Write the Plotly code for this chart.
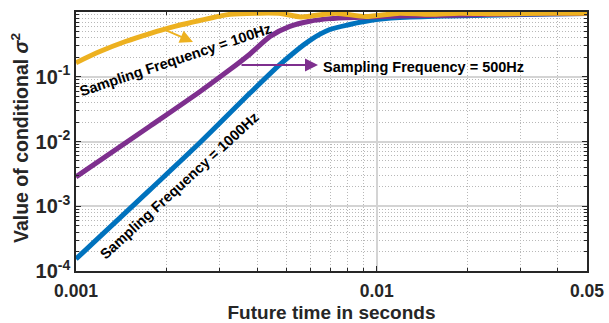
import plotly.graph_objects as go

# ---------------- data ----------------
t_1000 = [0.001, 0.00176, 0.00258, 0.00379, 0.00476, 0.00598, 0.00698, 0.00813,
          0.00948, 0.0119, 0.0175, 0.0256, 0.0376, 0.05]
v_1000 = [1.53e-4, 1.79e-3, 9.55e-3, 0.056, 0.154, 0.362, 0.536, 0.641,
          0.738, 0.82, 0.87, 0.90, 0.93, 0.95]

t_500 = [0.001, 0.00176, 0.00258, 0.00325, 0.00379, 0.00442, 0.00514, 0.00598,
         0.00698, 0.00897, 0.0119, 0.0175, 0.0256, 0.0376, 0.05]
v_500 = [2.84e-3, 0.0172, 0.0588, 0.129, 0.225, 0.42, 0.60, 0.72,
         0.79, 0.83, 0.87, 0.89, 0.92, 0.94, 0.95]

t_100 = [0.001, 0.00120, 0.00146, 0.00176, 0.00213, 0.00258, 0.00325, 0.00408,
         0.00480, 0.00560, 0.00730, 0.00920, 0.0119, 0.0150, 0.0188, 0.0256,
         0.0376, 0.05]
v_100 = [0.165, 0.245, 0.35, 0.465, 0.60, 0.74, 0.92, 0.96,
         0.95, 0.84, 0.96, 0.85, 0.96, 0.92, 0.96, 0.94,
         0.96, 0.96]

x_ticks = [0.001, 0.01, 0.05]
x_tick_text = ["0.001", "0.01", "0.05"]
y_ticks = [1e-4, 1e-3, 1e-2, 1e-1, 1]
y_tick_text = ["10<sup>-4</sup>", "10<sup>-3</sup>", "10<sup>-2</sup>",
               "10<sup>-1</sup>", "10<sup>0</sup>"]

labels = ["Sampling Frequency = 100Hz", "Sampling Frequency = 500Hz",
          "Sampling Frequency = 1000Hz"]
x_title = "Future time in seconds"
y_title = "Value of conditional <i>σ</i><sup>2</sup>"

# ---------------- style ----------------
BLUE, PURPLE, YELLOW = "#0072BD", "#7E2F8E", "#EDB120"
FONT = "Liberation Sans, Arial, Helvetica, sans-serif"
INK = "#262626"

x_minor = [k * 1e-3 for k in range(2, 10)] + [k * 1e-2 for k in range(2, 5)]
y_minor = [k * 10.0 ** e for e in range(-4, 0) for k in range(2, 10)]

fig = go.Figure()
for t, v, c in [(t_1000, v_1000, BLUE), (t_500, v_500, PURPLE), (t_100, v_100, YELLOW)]:
    fig.add_trace(go.Scatter(x=t, y=v, mode="lines",
                             line=dict(color=c, width=5, shape="spline", smoothing=0.7),
                             showlegend=False, hoverinfo="skip"))

L, R, T, B = 76, 587, 12, 271
W, H = 609, 323


def P(px, py):
    return (px - L) / (R - L), (B - py) / (B - T)


annotations = []
# arrows
for head, tail, col in [((193, 42), (163, 29), YELLOW), ((318, 65), (240, 65), PURPLE)]:
    hx, hy = P(*head)
    annotations.append(dict(x=hx, y=hy, xref="paper", yref="paper", text="",
                            showarrow=True, ax=tail[0] - head[0], ay=tail[1] - head[1],
                            arrowcolor=col, arrowwidth=2, arrowhead=2, arrowsize=1.3,
                            standoff=0, startstandoff=0))
# text labels
for (cx, cy), ang, txt in [((175, 60), -18.5, labels[0]),
                           ((423, 67), 0, labels[1]),
                           ((179, 186), -42.5, labels[2])]:
    x, y = P(cx, cy)
    annotations.append(dict(x=x, y=y, xref="paper", yref="paper", text=txt,
                            showarrow=False, textangle=ang, xanchor="center",
                            yanchor="middle",
                            font=dict(family=FONT, size=14.5, color="black", weight="bold")))
# y-axis title
yx, yy = P(20, 138)
annotations.append(dict(x=yx, y=yy, xref="paper", yref="paper", text=y_title,
                        showarrow=False, textangle=-90, xanchor="center", yanchor="middle",
                        font=dict(family=FONT, size=19.5, color=INK, weight="bold")))

grid_major = dict(showgrid=True, gridcolor="#d4d4d4", gridwidth=1.5)
minor_common = dict(tickmode="array", ticks="inside", ticklen=3, tickcolor=INK,
                    showgrid=True, gridcolor="#b8b8b8", griddash="1px,2px", gridwidth=1)

fig.update_layout(
    width=W, height=H,
    margin=dict(l=L, r=W - R, t=T, b=H - B),
    paper_bgcolor="white", plot_bgcolor="white",
    font=dict(family=FONT, color=INK),
    annotations=annotations,
    xaxis=dict(
        type="log", range=[-3, -1.30103], automargin=False,
        tickmode="array", tickvals=x_ticks, ticktext=x_tick_text,
        tickfont=dict(size=17.5, weight="bold", color=INK), ticklabelstandoff=3,
        ticks="inside", ticklen=5, tickcolor=INK,
        showline=True, linecolor=INK, linewidth=1.5, mirror="ticks",
        minor=dict(tickvals=x_minor, **minor_common),
        title=dict(text=x_title, standoff=6,
                   font=dict(size=19, weight="bold", color=INK)),
        zeroline=False, **grid_major,
    ),
    yaxis=dict(
        type="log", range=[-4, 0], automargin=False,
        tickmode="array", tickvals=y_ticks, ticktext=y_tick_text,
        tickfont=dict(size=20, weight="bold", color=INK),
        ticks="inside", ticklen=5, tickcolor=INK,
        showline=True, linecolor=INK, linewidth=1.5, mirror="ticks",
        minor=dict(tickvals=y_minor, **minor_common),
        zeroline=False, **grid_major,
    ),
)

fig.write_html("out.html", config={"displayModeBar": False},
               post_script="document.body.style.margin='0';"
                           "document.body.style.overflow='hidden';")
